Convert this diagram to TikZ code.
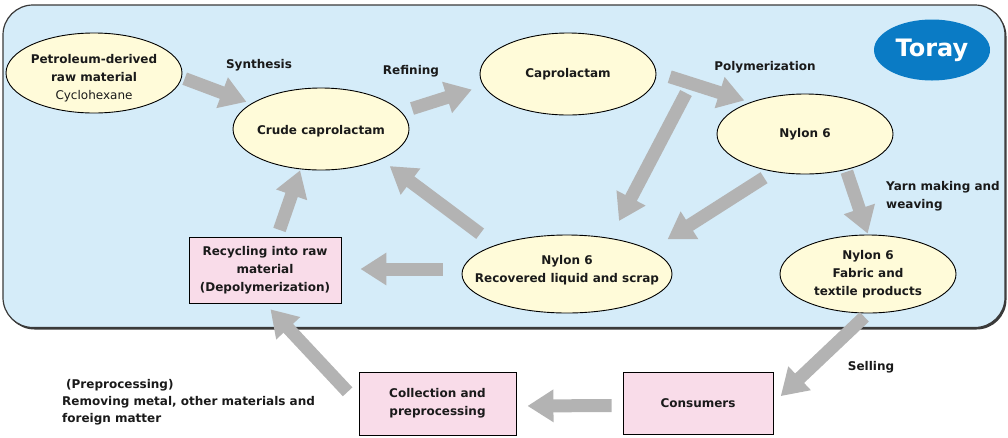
\documentclass[tikz,border=0pt]{standalone}
\usepackage{fontspec}
\setmainfont{DejaVu Sans}
\usetikzlibrary{shapes.geometric,arrows.meta}
\definecolor{panel}{HTML}{D5ECF9}
\definecolor{panelline}{HTML}{3A3A3A}
\definecolor{cream}{HTML}{FFFBD9}
\definecolor{pinkbox}{HTML}{F9DCE9}
\definecolor{arrowgray}{HTML}{B3B3B3}
\definecolor{torayblue}{HTML}{0A7BC5}
\definecolor{ink}{HTML}{1A1A1A}
\tikzset{
  txt/.style={font=\fontsize{12}{18}\selectfont\bfseries, text=ink, align=center, inner sep=0pt},
  stage/.style={ellipse, draw=black, line width=0.9pt, fill=cream, inner sep=0pt},
  stagetext/.style={txt},
  boxnode/.style={rectangle, draw=black, line width=0.9pt, fill=pinkbox, inner sep=0pt, txt},
  flow/.style={draw=arrowgray, line width=13pt, -{Triangle[width=31pt,length=26pt]}},
}
\begin{document}
\begin{tikzpicture}[x=1pt,y=-1pt]
\useasboundingbox (0,0) rectangle (1008,437);

% company area, with a thin shadow along its lower right side
\fill[panelline, rounded corners=30pt] (4.5,6.5) rectangle (1006.5,329.5);
\draw[fill=panel, draw=panelline, line width=1.2pt, rounded corners=30pt] (3,5) rectangle (1005,327.5);

% company mark
\node[ellipse, fill=torayblue, minimum width=116pt, minimum height=61pt, inner sep=0pt,
      label={[font=\fontsize{24}{24}\selectfont\bfseries, text=white]center:Toray}] (toray) at (932,50) {};

% process stages
\node[stage, minimum width=176pt, minimum height=80pt,
      label={[stagetext, yshift=-5pt]center:{Petroleum-derived\\raw material\\{\mdseries Cyclohexane}}}] (pet) at (94,73) {};
\node[stage, minimum width=176pt, minimum height=82pt,
      label={[stagetext, yshift=-2pt]center:Crude caprolactam}] (crude) at (321,129) {};
\node[stage, minimum width=176pt, minimum height=82pt,
      label={[stagetext]center:Caprolactam}] (capro) at (568,74) {};
\node[stage, minimum width=176pt, minimum height=80pt,
      label={[stagetext]center:Nylon 6}] (nylon) at (805,134) {};
\node[stage, minimum width=210pt, minimum height=78pt,
      label={[stagetext, yshift=4pt]center:{Nylon 6\\Recovered liquid and scrap}}] (recov) at (567,274) {};
\node[stage, minimum width=176pt, minimum height=78pt,
      label={[stagetext]center:{Nylon 6\\Fabric and\\textile products}}] (fabric) at (868,274) {};

% recycling stages
\node[boxnode, minimum width=152pt, minimum height=66pt] (recyc) at (265,270) {Recycling into raw\\material\\(Depolymerization)};
\node[boxnode, minimum width=157pt, minimum height=63pt] (coll) at (437.5,403.5) {Collection and\\preprocessing};
\node[boxnode, minimum width=150pt, minimum height=62pt] (cons) at (698,403) {Consumers};

% step labels
\node[txt] (lsyn) at (259,65) {Synthesis};
\node[txt] (lref) at (411,71) {Refining};
\node[txt] (lpol) at (765,67) {Polymerization};
\node[txt, align=left, anchor=west] (lyarn) at (886,196) {Yarn making and\\weaving};
\node[txt] (lsell) at (871,367) {Selling};
\node[txt, align=left, anchor=west, font=\fontsize{12}{17}\selectfont\bfseries] (lpre) at (62,402)
     {\hspace{4pt}(Preprocessing)\\Removing metal, other materials and\\foreign matter};

% free ends of the side stream from caprolactam
\coordinate (sideA) at (686,93);
\coordinate (sideB) at (619,221);

% flows
\draw[flow, shorten <=3pt, shorten >=5pt] (pet.-3) -- (crude.160);
\draw[flow, shorten <=11pt, shorten >=12pt] (crude.12) -- (capro.188);
\draw[flow, shorten <=14pt, shorten >=6pt] (capro.1) -- (nylon.150);
\draw[flow] (sideA) -- (sideB);
\draw[flow, shorten <=11pt, shorten >=20pt] (nylon.230) -- (recov.16);
\draw[flow, shorten <=2pt, shorten >=1pt] (nylon.-41) -- (fabric.north);
\draw[flow, shorten <=5pt, shorten >=10pt] (fabric.south) -- (cons.east);
\draw[flow, shorten <=11pt, shorten >=11pt] ([yshift=-2.5pt]cons.west) -- ([yshift=-2.5pt]coll.east);
\draw[flow, shorten <=16pt, shorten >=8pt] (coll.west) -- (recyc.south);
\draw[flow, shorten <=19pt, shorten >=19pt] ([yshift=5pt]recov.west) -- ([yshift=1pt]recyc.east);
\draw[flow, shorten <=19pt, shorten >=11pt] (recov.158) -- (crude.-27);
\draw[flow, shorten <=7pt, shorten >=1pt] (recyc.70) -- (crude.-117);
\end{tikzpicture}
\end{document}
